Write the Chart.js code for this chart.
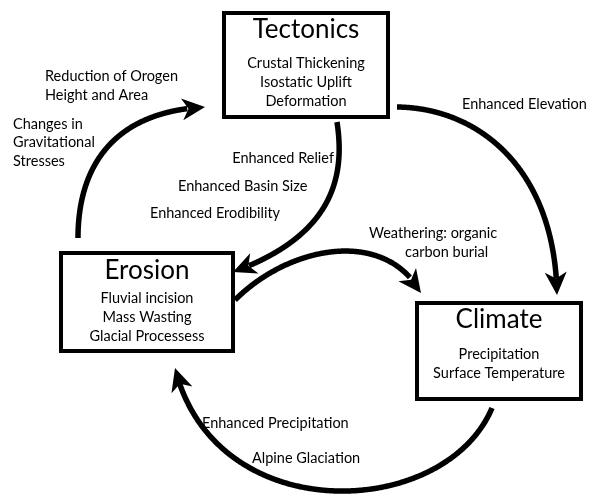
<!DOCTYPE html>
<html>
<head>
<meta charset="utf-8">
<script src="https://cdn.jsdelivr.net/npm/chart.js@4.4.1/dist/chart.umd.min.js"></script>
<style>
html,body{margin:0;padding:0;background:#fff;}
#wrap{width:593px;height:498px;position:relative;}
</style>
</head>
<body>
<div id="wrap"><canvas id="c" width="593" height="498"></canvas></div>
<script>
// ---- Boxes (process nodes) ----
const boxTitles = ['Tectonics', 'Erosion', 'Climate'];
const boxItems = [
  ['Crustal Thickening', 'Isostatic Uplift', 'Deformation'],
  ['Fluvial incision', 'Mass Wasting', 'Glacial Processess'],
  ['Precipitation', 'Surface Temperature']
];
const boxLeft   = [222, 59, 415];
const boxRight  = [390, 235, 583];
const boxTop    = [11, 251, 301];
const boxBottom = [119, 353, 401];
const titleY    = [30, 271, 320];
const itemsY    = [63, 298, 354];

// ---- Arrows (cubic curves: start, control 1, control 2, tip) ----
const arcStartX = [78, 337, 397, 235, 492];
const arcStartY = [238, 122, 107, 300, 408];
const arcC1X    = [78, 345, 480, 290, 445];
const arcC1Y    = [170, 175, 108, 245, 520];
const arcC2X    = [110, 335, 555, 385, 215];
const arcC2Y    = [112, 235, 170, 228, 530];
const arcEndX   = [205, 233, 557, 421, 175];
const arcEndY   = [107, 272, 295, 293, 368];

// ---- Edge labels ----
const labelText = ['Reduction of Orogen', 'Height and Area', 'Changes in', 'Gravitational', 'Stresses',
  'Enhanced Relief', 'Enhanced Basin Size', 'Enhanced Erodibility', 'Enhanced Elevation',
  'Weathering: organic', 'carbon burial', 'Enhanced Precipitation', 'Alpine Glaciation'];
const labelX = [45, 45, 13, 13, 13, 334, 178, 150, 462, 369, 405, 202, 252];
const labelY = [76, 95, 124, 142, 161, 158, 186, 213, 104, 233, 252, 423, 458];
const labelAlign = ['left', 'left', 'left', 'left', 'left', 'right', 'left', 'left', 'left', 'left', 'left', 'left', 'left'];

const FONT = "Lato, 'Open Sans', sans-serif";

function bez(p0, p1, p2, p3, t) {
  const u = 1 - t;
  return u*u*u*p0 + 3*u*u*t*p1 + 3*u*t*t*p2 + t*t*t*p3;
}

const diagramPlugin = {
  id: 'diagram',
  afterDatasetsDraw(chart) {
    const ctx = chart.ctx;
    const xs = chart.scales.x, ys = chart.scales.y;
    const px = v => xs.getPixelForValue(v);
    const py = v => ys.getPixelForValue(v);
    ctx.save();
    ctx.fillStyle = '#000';
    ctx.strokeStyle = '#000';

    // arrows
    for (let i = 0; i < arcStartX.length; i++) {
      const P = [[px(arcStartX[i]), py(arcStartY[i])], [px(arcC1X[i]), py(arcC1Y[i])],
                 [px(arcC2X[i]), py(arcC2Y[i])], [px(arcEndX[i]), py(arcEndY[i])]];
      const tip = P[3];
      const headLen = 23, headHalf = 11;
      const pts = [];
      for (let k = 0; k <= 400; k++) {
        const t = k / 400;
        pts.push([bez(P[0][0], P[1][0], P[2][0], P[3][0], t), bez(P[0][1], P[1][1], P[2][1], P[3][1], t)]);
      }
      let endIdx = pts.length - 1;
      while (endIdx > 0 && Math.hypot(pts[endIdx][0] - tip[0], pts[endIdx][1] - tip[1]) < headLen) endIdx--;
      const base = pts[endIdx];
      ctx.lineWidth = 5.5;
      ctx.lineCap = 'butt';
      ctx.lineJoin = 'round';
      ctx.beginPath();
      ctx.moveTo(pts[0][0], pts[0][1]);
      const stop = Math.min(pts.length - 1, endIdx + 8);
      for (let k = 1; k <= stop; k++) ctx.lineTo(pts[k][0], pts[k][1]);
      ctx.stroke();
      let dx = tip[0] - base[0], dy = tip[1] - base[1];
      const len = Math.hypot(dx, dy); dx /= len; dy /= len;
      const nx = -dy, ny = dx;
      const bx = tip[0] - dx * headLen, by = tip[1] - dy * headLen;
      const notchX = tip[0] - dx * headLen * 0.72, notchY = tip[1] - dy * headLen * 0.72;
      ctx.beginPath();
      ctx.moveTo(tip[0], tip[1]);
      ctx.lineTo(bx + nx * headHalf, by + ny * headHalf);
      ctx.lineTo(notchX, notchY);
      ctx.lineTo(bx - nx * headHalf, by - ny * headHalf);
      ctx.closePath();
      ctx.fill();
    }

    // boxes
    ctx.lineWidth = 4;
    ctx.lineJoin = 'miter';
    for (let i = 0; i < boxTitles.length; i++) {
      const l = px(boxLeft[i]) + 2, r = px(boxRight[i]) - 2;
      const t = py(boxTop[i]) + 2, b = py(boxBottom[i]) - 2;
      ctx.fillStyle = '#fff';
      ctx.fillRect(l, t, r - l, b - t);
      ctx.strokeRect(l, t, r - l, b - t);
      ctx.fillStyle = '#000';
      const cx = (l + r) / 2;
      ctx.textAlign = 'center';
      ctx.textBaseline = 'middle';
      ctx.font = '26px ' + FONT;
      ctx.fillText(boxTitles[i], cx, py(titleY[i]));
      ctx.font = '14.5px ' + FONT;
      boxItems[i].forEach((s, k) => ctx.fillText(s, cx, py(itemsY[i]) + k * 19));
    }

    // labels
    ctx.font = '14.5px ' + FONT;
    ctx.textBaseline = 'middle';
    for (let i = 0; i < labelText.length; i++) {
      ctx.textAlign = labelAlign[i];
      ctx.fillText(labelText[i], px(labelX[i]), py(labelY[i]));
    }
    ctx.restore();
  }
};

new Chart(document.getElementById('c'), {
  type: 'scatter',
  data: { datasets: [{ data: [], pointRadius: 0 }] },
  options: {
    responsive: false,
    animation: false,
    layout: { padding: 0 },
    plugins: { legend: { display: false }, tooltip: { enabled: false } },
    scales: {
      x: { type: 'linear', min: 0, max: 593, display: false },
      y: { type: 'linear', min: 0, max: 498, reverse: true, display: false }
    }
  },
  plugins: [diagramPlugin]
});
</script>
</body>
</html>
